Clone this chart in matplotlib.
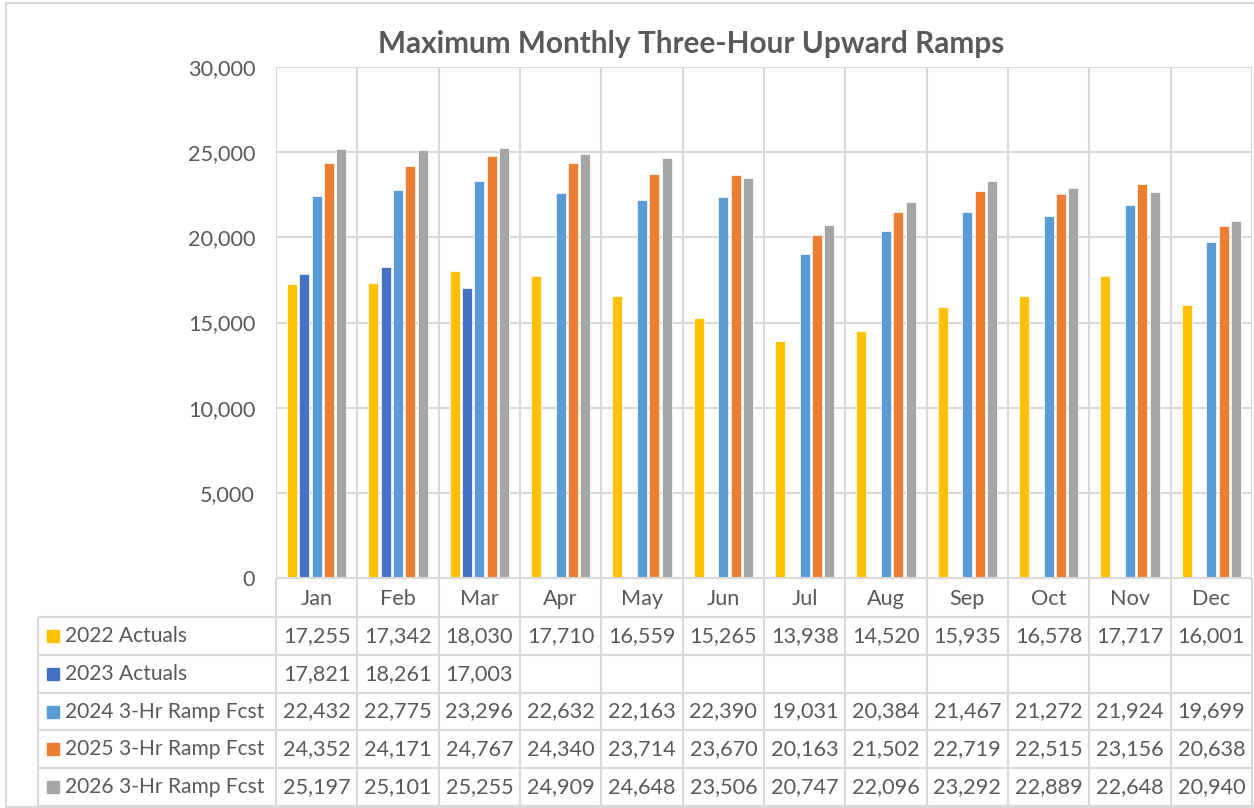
import numpy as np
import matplotlib
matplotlib.use('Agg')
import matplotlib.pyplot as plt
from matplotlib.patches import Rectangle

months = ['Jan', 'Feb', 'Mar', 'Apr', 'May', 'Jun', 'Jul', 'Aug', 'Sep', 'Oct', 'Nov', 'Dec']
series_names = ['2022 Actuals', '2023 Actuals', '2024 3-Hr Ramp Fcst',
                '2025 3-Hr Ramp Fcst', '2026 3-Hr Ramp Fcst']
act_2022 = [17255, 17342, 18030, 17710, 16559, 15265, 13938, 14520, 15935, 16578, 17717, 16001]
act_2023 = [17821, 18261, 17003, None, None, None, None, None, None, None, None, None]
fcst_2024 = [22432, 22775, 23296, 22632, 22163, 22390, 19031, 20384, 21467, 21272, 21924, 19699]
fcst_2025 = [24352, 24171, 24767, 24340, 23714, 23670, 20163, 21502, 22719, 22515, 23156, 20638]
fcst_2026 = [25197, 25101, 25255, 24909, 24648, 23506, 20747, 22096, 23292, 22889, 22648, 20940]
colors = ['#FFC000', '#4472C4', '#5B9BD5', '#ED7D31', '#A5A5A5']
yticks = [0, 5000, 10000, 15000, 20000, 25000, 30000]

series = [act_2022, act_2023, fcst_2024, fcst_2025, fcst_2026]

plt.rcParams['font.family'] = ['Lato', 'DejaVu Sans']
TXT = '#595959'
GRID = '#D9D9D9'
FS = 15.6

W, H = 1254, 808
fig = plt.figure(figsize=(W / 100, H / 100), dpi=100)

# pixel layout
px_left, px_right, px_top, px_bot = 276, 1252, 67, 578
tab_left, tab_bot = 38, 806

ax = fig.add_axes([px_left / W, 1 - px_bot / H, (px_right - px_left) / W, (px_bot - px_top) / H])
x = np.arange(len(months))
step, bw = 0.152, 0.122
for i, (vals, c) in enumerate(zip(series, colors)):
    v = np.array([np.nan if a is None else a for a in vals], dtype=float)
    ax.bar(x + (i - 2) * step, v, width=bw, color=c, edgecolor='white', linewidth=0.5, zorder=3)

ax.set_xlim(-0.5, len(months) - 0.5)
ax.set_ylim(0, 30000)
ax.set_yticks(yticks)
ax.set_yticklabels([f'{t:,}' for t in yticks], fontsize=FS, color=TXT)
ax.tick_params(axis='y', length=0, pad=15)
ax.set_xticks([])
ax.grid(axis='y', color=GRID, lw=1.5, zorder=0)
ax.vlines(np.arange(len(months) + 1) - 0.5, 0, 30000, color=GRID, lw=1.5, zorder=1)
for s in ax.spines.values():
    s.set_visible(False)

# data table below the plot
ppu = (px_right - px_left) / len(months)
tx0 = -0.5 - (px_left - tab_left) / ppu
tax = fig.add_axes([tab_left / W, 1 - tab_bot / H, (px_right - tab_left) / W, (tab_bot - px_bot) / H])
row_h = [39] + [37.8] * len(series)
edges = np.concatenate([[0], np.cumsum(row_h)])
tax.set_xlim(tx0, len(months) - 0.5)
tax.set_ylim(edges[-1], 0)
tax.axis('off')

for e in edges:
    x0 = -0.5 if e == 0 else tx0
    tax.hlines(e, x0, len(months) - 0.5, color=GRID, lw=1.5, clip_on=False)
for k in range(len(months) + 1):
    tax.vlines(k - 0.5, 0, edges[-1], color=GRID, lw=1.5, clip_on=False)
tax.vlines(tx0, edges[1], edges[-1], color=GRID, lw=1.5, clip_on=False)

for j, m in enumerate(months):
    tax.text(j, (edges[0] + edges[1]) / 2 + 1.5, m, ha='center', va='center', fontsize=FS, color=TXT)

key_px = 12
for i, (name, vals, c) in enumerate(zip(series_names, series, colors)):
    yc = (edges[i + 1] + edges[i + 2]) / 2
    tax.add_patch(Rectangle((tx0 + 9 / ppu, yc - key_px / 2), key_px / ppu, key_px,
                            color=c, clip_on=False))
    tax.text(tx0 + 27 / ppu, yc, name, ha='left', va='center', fontsize=FS - 0.5, color=TXT)
    for j, v in enumerate(vals):
        if v is not None:
            tax.text(j, yc, f'{v:,}', ha='center', va='center', fontsize=FS, color=TXT)

# outer chart border
fig.add_artist(plt.Line2D([6 / W, 6 / W], [1 - 3 / H, 1 - 807 / H], color=GRID, lw=1.5))
fig.add_artist(plt.Line2D([6 / W, 1], [1 - 3 / H, 1 - 3 / H], color=GRID, lw=1.5))
fig.add_artist(plt.Line2D([6 / W, 1], [1 - 807 / H, 1 - 807 / H], color=GRID, lw=1.5))

fig.text(691 / W, 1 - 44 / H, 'Maximum Monthly Three-Hour Upward Ramps', ha='center', va='center',
         fontsize=21.4, fontweight='bold', color=TXT)

fig.savefig('out.png', dpi=100)
